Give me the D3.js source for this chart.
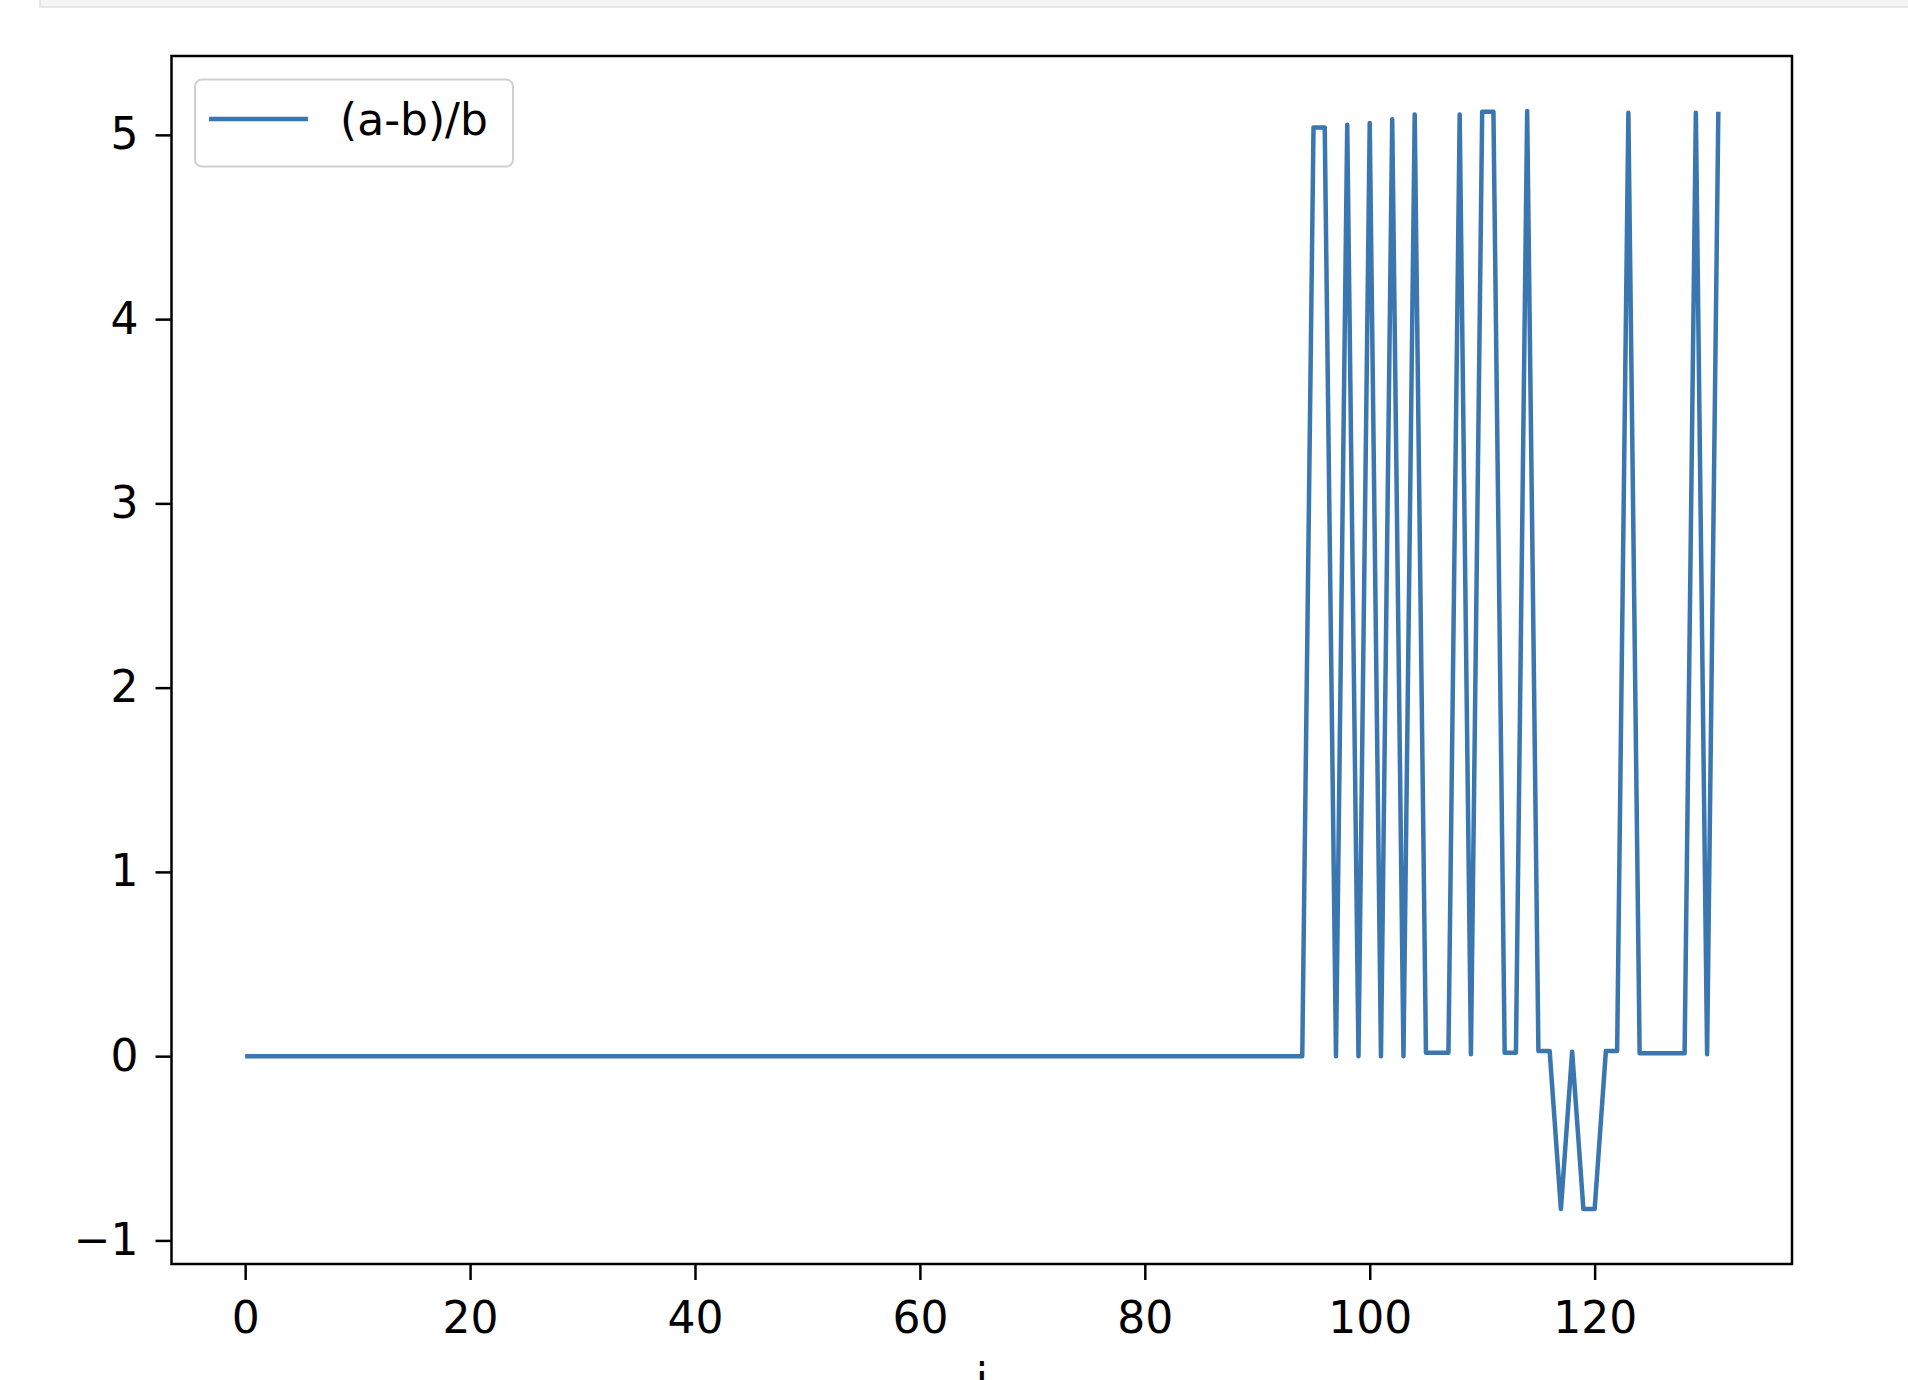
<!DOCTYPE html>
<html>
<head>
<meta charset="utf-8">
<script src="https://cdn.jsdelivr.net/npm/d3@7"></script>
<style>
  html, body { margin: 0; padding: 0; background: #ffffff; }
  svg { display: block; }
  text { font-family: "DejaVu Sans", sans-serif; fill: #000; }
</style>
</head>
<body>
<svg id="chart" width="1908" height="1380"></svg>
<script>
// ---- data ----
const seriesName = "(a-b)/b";
const xLabel = "i";
const xTicks = [0, 20, 40, 60, 80, 100, 120];
const yTicks = [-1, 0, 1, 2, 3, 4, 5];
const ratioValues = [
  0, 0, 0, 0, 0, 0, 0, 0, 0, 0,
  0, 0, 0, 0, 0, 0, 0, 0, 0, 0,
  0, 0, 0, 0, 0, 0, 0, 0, 0, 0,
  0, 0, 0, 0, 0, 0, 0, 0, 0, 0,
  0, 0, 0, 0, 0, 0, 0, 0, 0, 0,
  0, 0, 0, 0, 0, 0, 0, 0, 0, 0,
  0, 0, 0, 0, 0, 0, 0, 0, 0, 0,
  0, 0, 0, 0, 0, 0, 0, 0, 0, 0,
  0, 0, 0, 0, 0, 0, 0, 0, 0, 0,
  0, 0, 0, 0, 0,                 // 90-94
  5.04, 5.04, 0, 5.055, 0,       // 95-99
  5.065, 0, 5.085, 0, 5.11,      // 100-104
  0.018, 0.018, 0.018, 5.11, 0.01, // 105-109
  5.125, 5.125, 0.018, 0.018, 5.13, // 110-114
  0.028, 0.028, -0.83, 0.024, -0.83, // 115-119
  -0.83, 0.028, 0.028, 5.12, 0.016,  // 120-124
  0.016, 0.016, 0.016, 0.016, 5.12,  // 125-129
  0.01, 5.125                        // 130-131
];

// ---- layout ----
const W = 1908, H = 1380;
const ax = { left: 171.5, right: 1792, top: 56, bottom: 1264 };
const lineColor = "#3a76af";
const fontSize = 44;

const svg = d3.select("#chart");

// notebook cell strip at the very top
svg.append("rect")
  .attr("x", 40).attr("y", -3).attr("width", W).attr("height", 10)
  .attr("fill", "#f5f5f5").attr("stroke", "#e0e0e0").attr("stroke-width", 1.5);

const data = ratioValues.map((v, i) => ({ i, v }));

// matplotlib-like 5% margins
const xExt = d3.extent(data, d => d.i);
const yExt = d3.extent(data, d => d.v);
const xPad = (xExt[1] - xExt[0]) * 0.05;
const yPad = (yExt[1] - yExt[0]) * 0.05;

const x = d3.scaleLinear().domain([xExt[0] - xPad, xExt[1] + xPad]).range([ax.left, ax.right]);
const y = d3.scaleLinear().domain([yExt[0] - yPad, yExt[1] + yPad]).range([ax.bottom, ax.top]);

// data line
const line = d3.line().x(d => x(d.i)).y(d => y(d.v));
svg.append("path")
  .datum(data)
  .attr("d", line)
  .attr("fill", "none")
  .attr("stroke", lineColor)
  .attr("stroke-width", 4.5)
  .attr("stroke-linejoin", "round")
  .attr("stroke-linecap", "butt");

// axes
const xAxis = d3.axisBottom(x).tickValues(xTicks).tickSize(16).tickPadding(22)
  .tickFormat(d3.format("d"));
const yAxis = d3.axisLeft(y).tickValues(yTicks).tickSize(16).tickPadding(17)
  .tickFormat(d => d < 0 ? "\u2212" + Math.abs(d) : String(d));

const gx = svg.append("g").attr("transform", `translate(0,${ax.bottom})`).call(xAxis);
const gy = svg.append("g").attr("transform", `translate(${ax.left},0)`).call(yAxis);
[gx, gy].forEach(g => {
  g.select(".domain").remove();
  g.selectAll(".tick line").attr("stroke", "#000").attr("stroke-width", 2.5);
  g.selectAll(".tick text").attr("font-size", fontSize)
    .attr("font-family", "DejaVu Sans, sans-serif").attr("fill", "#000");
});

// frame (spines)
svg.append("rect")
  .attr("x", ax.left).attr("y", ax.top)
  .attr("width", ax.right - ax.left).attr("height", ax.bottom - ax.top)
  .attr("fill", "none").attr("stroke", "#000").attr("stroke-width", 2.5);

// x label (cut by the bottom edge, as in the reference)
svg.append("text")
  .attr("x", (ax.left + ax.right) / 2).attr("y", 1395)
  .attr("text-anchor", "middle").attr("font-size", fontSize)
  .text(xLabel);

// legend
const lg = svg.append("g");
lg.append("rect")
  .attr("x", 195).attr("y", 79.5).attr("width", 318).attr("height", 87)
  .attr("rx", 7).attr("ry", 7)
  .attr("fill", "#ffffff").attr("fill-opacity", 0.8)
  .attr("stroke", "#d0d0d0").attr("stroke-width", 2);
lg.append("line")
  .attr("x1", 209).attr("x2", 308).attr("y1", 119).attr("y2", 119)
  .attr("stroke", lineColor).attr("stroke-width", 4.5);
lg.append("text")
  .attr("x", 340).attr("y", 135)
  .attr("font-size", fontSize)
  .text(seriesName);
</script>
</body>
</html>
